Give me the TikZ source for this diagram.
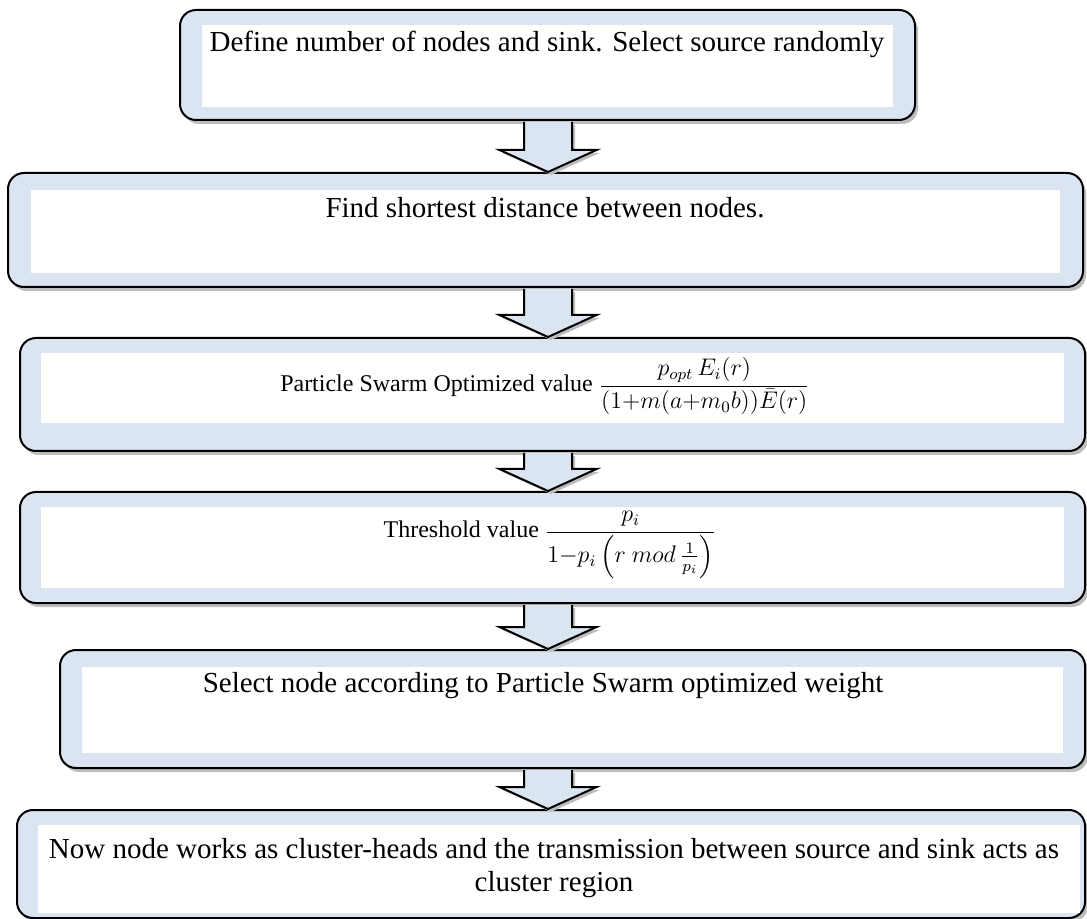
\documentclass[tikz,border=0pt]{standalone}
\usepackage{amsmath}
\usepackage{fontspec}
\setmainfont{Liberation Serif}
\usetikzlibrary{fit,calc,shadows}
\definecolor{boxblue}{HTML}{DBE5F1}
\definecolor{shadowgray}{HTML}{BDBDBD}
\tikzset{
  outerbox/.style={draw=black, line width=1pt, fill=boxblue, rounded corners=8pt, inner sep=0pt,
    drop shadow={shadow xshift=1.5pt, shadow yshift=-2pt, fill=shadowgray, opacity=1}},
  whitebox/.style={fill=white, inner sep=0pt},
  txt/.style={font=\fontsize{14.5pt}{16.5pt}\selectfont, inner sep=0pt, anchor=base},
  smalltxt/.style={font=\fontsize{12pt}{14pt}\selectfont, inner sep=0pt, anchor=base},
  blockarr/.style={draw=black, line width=1pt, fill=boxblue, line join=miter,
    drop shadow={shadow xshift=1.5pt, shadow yshift=-1.5pt, fill=shadowgray, opacity=1}}
}
% block arrow from the lower side of one box to the top of the next
\newcommand{\flowarrow}[2]{%
  \draw[blockarr] let \p1=(#1.south -| ax), \p2=(#2.north -| ax) in
    (\x1-12pt,\y1-0.5pt) -- (\x1-12pt,\y2+11pt) -- (\x1-24.25pt,\y2+11pt) -- (\x2,\y2)
    -- (\x1+24.25pt,\y2+11pt) -- (\x1+12pt,\y2+11pt) -- (\x1+12pt,\y1-0.5pt);}
\begin{document}
\begin{tikzpicture}[x=0.5pt, y=-0.5pt]
  \useasboundingbox (0,0) rectangle (1087,919);
  \coordinate (ax) at (548,0);
  % boxes
  \node[outerbox, fit={(180,10) (915,120)}] (b1) {};
  \node[whitebox, fit={(202,25) (893,107)}] (w1) {};
  \node[outerbox, fit={(8,173) (1083,287)}] (b2) {};
  \node[whitebox, fit={(31,190) (1060,273)}] (w2) {};
  \node[outerbox, fit={(20,338) (1085,451)}] (b3) {};
  \node[whitebox, fit={(41,353) (1064,423)}] (w3) {};
  \node[outerbox, fit={(20,492) (1085,603)}] (b4) {};
  \node[whitebox, fit={(41,507) (1064,588)}] (w4) {};
  \node[outerbox, fit={(60,650) (1085,768)}] (b5) {};
  \node[whitebox, fit={(82,667) (1063,753)}] (w5) {};
  \node[outerbox, fit={(17,810) (1085,918)}] (b6) {};
  \node[whitebox, fit={(38,825) (1080,913)}] (w6) {};
  % texts
  \node[txt] (t1) at (547,52) {Define number of nodes and sink. Select source randomly};
  \node[txt] (t2) at (545,218) {Find shortest distance between nodes.};
  \node[smalltxt] (t3) at (545,392) {Particle Swarm Optimized value $\dfrac{p_{opt}\,E_i(r)}{(1{+}m(a{+}m_0b))\bar{E}(r)}$};
  \node[smalltxt] (t4) at (550,538) {Threshold value $\dfrac{p_i}{1{-}p_i\left(r\ mod\,\frac{1}{p_i}\right)}$};
  \node[txt] (t5) at (543,692) {Select node according to Particle Swarm optimized weight};
  \node[txt, anchor=north, align=center] (t6) at (554,838) {Now node works as cluster-heads and the transmission between source and sink acts as\\ cluster region};
  % arrows
  \flowarrow{b1}{b2}
  \flowarrow{b2}{b3}
  \flowarrow{b3}{b4}
  \flowarrow{b4}{b5}
  \flowarrow{b5}{b6}
\end{tikzpicture}
\end{document}
